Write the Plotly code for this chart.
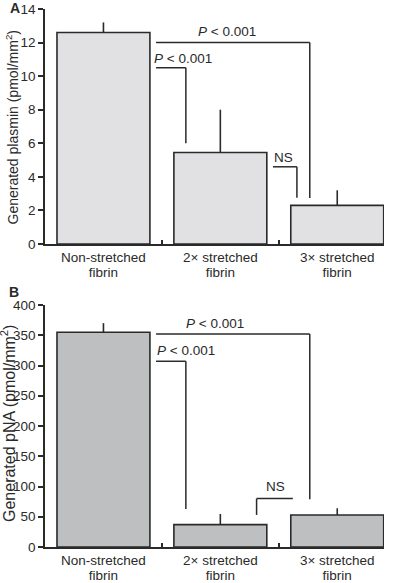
import plotly.graph_objects as go

cat_line1 = ["Non-stretched", "2\u00d7 stretched", "3\u00d7 stretched"]
cat_line2 = ["fibrin", "fibrin", "fibrin"]
plasmin = [12.6, 5.45, 2.3]
plasmin_err = [0.6, 2.55, 0.9]
pna = [355, 37, 53]
pna_err = [15, 17.5, 11]

yticks_a = [0, 2, 4, 6, 8, 10, 12, 14]
yticks_b = [0, 50, 100, 150, 200, 250, 300, 350, 400]

# brackets: (x_left, x_right, y_level, y_drop_left, y_drop_right, label, label_x, label_y)
brackets_a = [
    (0.45, 1.765, 12.0, None, 2.74, "<i>P</i> < 0.001", 1.06, 12.65),
    (0.45, 0.705, 10.5, None, 6.0, "<i>P</i> < 0.001", 0.68, 11.05),
    (1.45, 1.655, 4.6, None, 2.75, "NS", 1.54, 5.15),
]
brackets_b = [
    (0.45, 1.765, 352, None, 79, "<i>P</i> < 0.001", 0.95, 370),
    (0.45, 0.705, 307, None, 63, "<i>P</i> < 0.001", 0.71, 324),
    (1.31, 1.62, 80, 53, None, "NS", 1.47, 100),
]

xs = list(range(len(cat_line1)))
FONT = "Liberation Sans, Arial, sans-serif"
INK = "#2a2a2a"
FS = 13.5

W, H = 397, 583
ML, MR, MT, MB = 45, 13, 9, 36

def px_x(p):
    return (p - ML) / (W - ML - MR)

def px_y(p):
    return (H - MB - p) / (H - MT - MB)

fig = go.Figure()
fig.add_trace(go.Bar(
    x=xs, y=plasmin, width=0.795,
    marker=dict(color="#e1e1e3", line=dict(color=INK, width=1.6)),
    error_y=dict(type="data", symmetric=False, array=plasmin_err,
                 arrayminus=[0] * 3, width=0, thickness=1.6, color=INK),
    xaxis="x", yaxis="y", showlegend=False, hoverinfo="skip"))
fig.add_trace(go.Bar(
    x=xs, y=pna, width=0.795,
    marker=dict(color="#bebfc1", line=dict(color=INK, width=1.6)),
    error_y=dict(type="data", symmetric=False, array=pna_err,
                 arrayminus=[0] * 3, width=0, thickness=1.6, color=INK),
    xaxis="x2", yaxis="y2", showlegend=False, hoverinfo="skip"))
# carrier traces so the second-line label axes get drawn
fig.add_trace(go.Scatter(x=xs, y=[None] * 3, xaxis="x3", yaxis="y", mode="markers",
                         showlegend=False, hoverinfo="skip"))
fig.add_trace(go.Scatter(x=xs, y=[None] * 3, xaxis="x4", yaxis="y2", mode="markers",
                         showlegend=False, hoverinfo="skip"))

shapes = []
annotations = []
for brs, xr, yr in [(brackets_a, "x", "y"), (brackets_b, "x2", "y2")]:
    for (x0, x1, yl, dl, dr, lab, lx, ly) in brs:
        shapes.append(dict(type="line", xref=xr, yref=yr, x0=x0, x1=x1, y0=yl, y1=yl,
                           line=dict(color=INK, width=1.5)))
        if dl is not None:
            shapes.append(dict(type="line", xref=xr, yref=yr, x0=x0, x1=x0, y0=yl, y1=dl,
                               line=dict(color=INK, width=1.5)))
        if dr is not None:
            shapes.append(dict(type="line", xref=xr, yref=yr, x0=x1, x1=x1, y0=yl, y1=dr,
                               line=dict(color=INK, width=1.5)))
        annotations.append(dict(xref=xr, yref=yr, x=lx, y=ly, text=lab, showarrow=False,
                                font=dict(size=FS, color=INK, family=FONT)))

# panel letters
annotations.append(dict(xref="paper", yref="paper", x=px_x(15), y=px_y(8), text="<b>A</b>",
                        showarrow=False, xanchor="center", yanchor="middle",
                        font=dict(size=14, color=INK, family=FONT)))
annotations.append(dict(xref="paper", yref="paper", x=px_x(14), y=px_y(292), text="<b>B</b>",
                        showarrow=False, xanchor="center", yanchor="middle",
                        font=dict(size=14, color=INK, family=FONT)))
# y-axis titles
annotations.append(dict(xref="paper", yref="paper", x=px_x(12), y=px_y(127.5),
                        text="Generated plasmin (pmol/mm<sup>2</sup>)", textangle=-90,
                        showarrow=False, xanchor="center", yanchor="middle",
                        font=dict(size=14, color=INK, family=FONT)))
annotations.append(dict(xref="paper", yref="paper", x=px_x(8), y=px_y(424),
                        text="Generated pNA (pmol/mm<sup>2</sup>)", textangle=-90,
                        showarrow=False, xanchor="center", yanchor="middle",
                        font=dict(size=16, color=INK, family=FONT)))

xaxis_common = dict(
    range=[-0.5, 2.4], tickmode="array", tickvals=xs, ticktext=cat_line1,
    ticks="", showline=True, linecolor=INK, linewidth=1.6, showgrid=False,
    zeroline=False, tickfont=dict(size=FS, color=INK, family=FONT), automargin=False,
    fixedrange=True,
    minor=dict(tickvals=[0.5, 1.5], ticks="inside", ticklen=4, tickwidth=1.5, tickcolor=INK),
)
xaxis_line2 = dict(
    range=[-0.5, 2.4], tickmode="array", tickvals=xs, ticktext=cat_line2,
    ticks="", showline=False, showgrid=False, zeroline=False, automargin=False,
    fixedrange=True, ticklabelstandoff=18,
    tickfont=dict(size=FS, color=INK, family=FONT),
)
yaxis_common = dict(
    showline=True, linecolor=INK, linewidth=1.6, showgrid=False, zeroline=False,
    ticks="outside", ticklen=5, tickwidth=1.5, tickcolor=INK, automargin=False,
    fixedrange=True, tickfont=dict(size=FS, color=INK, family=FONT),
)

fig.update_layout(
    width=W, height=H,
    margin=dict(l=ML, r=MR, t=MT, b=MB),
    plot_bgcolor="white", paper_bgcolor="white",
    font=dict(family=FONT, color=INK, size=FS),
    hovermode=False,
    xaxis=dict(domain=[0, 1], anchor="y", **xaxis_common),
    yaxis=dict(domain=[px_y(244), 1.0], anchor="x", range=[0, 14], tickvals=yticks_a,
               **yaxis_common),
    xaxis2=dict(domain=[0, 1], anchor="y2", **xaxis_common),
    yaxis2=dict(domain=[0.0, px_y(305)], anchor="x2", range=[0, 400], tickvals=yticks_b,
                **yaxis_common),
    xaxis3=dict(overlaying="x", anchor="y", side="bottom", **xaxis_line2),
    xaxis4=dict(overlaying="x2", anchor="y2", side="bottom", **xaxis_line2),
    shapes=shapes, annotations=annotations,
)

fig.write_html("out.html", config={"displayModeBar": False},
               post_script="document.body.style.margin='0px';")
